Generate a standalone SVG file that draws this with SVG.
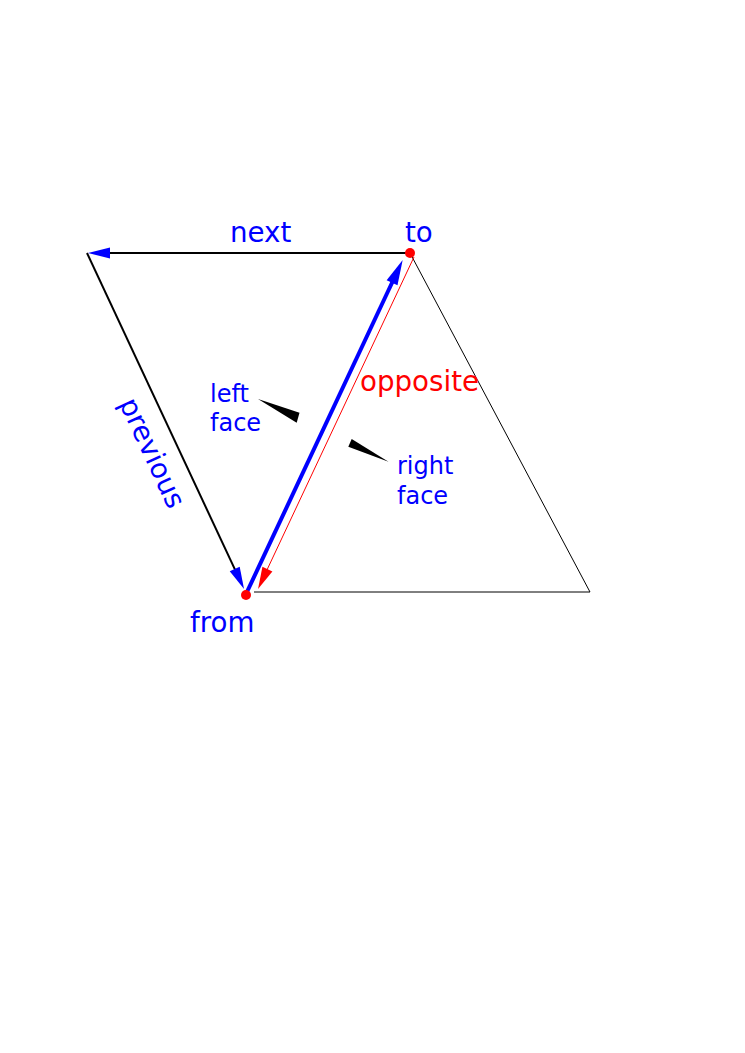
<svg xmlns="http://www.w3.org/2000/svg" width="745" height="1053" viewBox="0 0 745 1053">
<style>
.lbl{font-family:"DejaVu Sans",sans-serif;font-size:27.7px;fill:#0000ff}
.sm{font-family:"DejaVu Sans",sans-serif;font-size:24px;fill:#0000ff}
.red{fill:#ff0000}
.edge{fill:none;stroke:#000}
</style>
<defs>
<marker id="ab" markerUnits="userSpaceOnUse" markerWidth="24" markerHeight="12" refX="12" refY="5.5" orient="auto" overflow="visible">
<path d="M0,0 L22,5.5 L0,11 z" fill="#0000ff"/>
</marker>
<marker id="abt" markerUnits="userSpaceOnUse" markerWidth="26" markerHeight="13" refX="14" refY="6" orient="auto" overflow="visible">
<path d="M0,0 L25,6 L0,12 z" fill="#0000ff"/>
</marker>
<marker id="ar" markerUnits="userSpaceOnUse" markerWidth="24" markerHeight="12" refX="12" refY="5.5" orient="auto" overflow="visible">
<path d="M0,0 L22,5.5 L0,11 z" fill="#ff0000"/>
</marker>
</defs>
<rect width="745" height="1053" fill="#fff"/>
<g id="connectors">
<polyline class="edge" stroke-width="1" points="410,253 590,592 254,592"/>
<line x1="410" y1="253" x2="98" y2="253" stroke="#000" stroke-width="2" marker-end="url(#ab)"/>
<line x1="87" y1="253" x2="239.8" y2="579.9" stroke="#000" stroke-width="2" marker-end="url(#ab)"/>
<line x1="246" y1="594" x2="398" y2="270" stroke="#0000ff" stroke-width="4" marker-end="url(#abt)"/>
<line x1="414" y1="257" x2="262.3" y2="579.9" stroke="#ff0000" stroke-width="1" marker-end="url(#ar)"/>
<polygon points="258,399 299.5,412.7 296.7,422.7" fill="#000"/>
<polygon points="388.5,461.7 351.7,439 348.3,446.7" fill="#000"/>
</g>
<g id="node-to">
<circle cx="410" cy="253" r="5" fill="#ff0000"/>
<text class="lbl" x="405" y="242">to</text>
</g>
<g id="node-from">
<circle cx="246" cy="595" r="5" fill="#ff0000"/>
<text class="lbl" x="190" y="632">from</text>
</g>
<g id="label-next"><text class="lbl" x="230" y="242">next</text></g>
<g id="label-previous"><text class="lbl" text-anchor="middle" transform="translate(152,453) rotate(65)" x="0" y="9">previous</text></g>
<g id="label-opposite"><text class="lbl red" x="360" y="391">opposite</text></g>
<g id="label-left-face"><text class="sm" x="210"><tspan x="210" y="402">left</tspan><tspan x="210" y="431">face</tspan></text></g>
<g id="label-right-face"><text class="sm" x="397"><tspan x="397" y="474">right</tspan><tspan x="397" y="504">face</tspan></text></g>
</svg>
